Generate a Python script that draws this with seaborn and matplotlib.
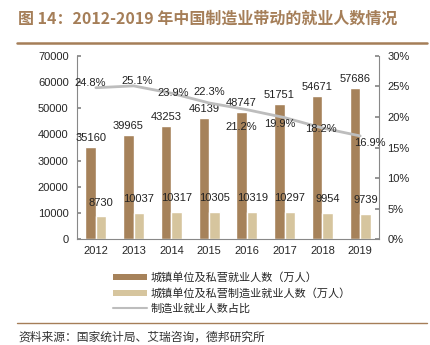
import matplotlib
matplotlib.use("Agg")
import matplotlib.pyplot as plt
import seaborn as sns
import pandas as pd
from matplotlib.patches import Patch
from matplotlib.lines import Line2D

years = ["2012", "2013", "2014", "2015", "2016", "2017", "2018", "2019"]
total_emp = [35160, 39965, 43253, 46139, 48747, 51751, 54671, 57686]
mfg_emp = [8730, 10037, 10317, 10305, 10319, 10297, 9954, 9739]
mfg_share = [24.8, 25.1, 23.9, 22.3, 21.2, 19.9, 18.2, 16.9]
series_names = ["城镇单位及私营就业人数（万人）", "城镇单位及私营制造业就业人数（万人）", "制造业就业人数占比"]

sns.set_theme(style="white")
plt.rcParams['font.family'] = ['Liberation Sans', 'Noto Sans CJK SC', 'DejaVu Sans']

dark = "#A6825A"
light = "#D6C59E"
gray = "#BDBDBD"
brown = "#A57E58"

df = pd.DataFrame({
    "year": years * 2,
    "value": total_emp + mfg_emp,
    "series": [series_names[0]] * len(years) + [series_names[1]] * len(years),
})

fig = plt.figure(figsize=(4.31, 3.45), dpi=100)
ax = fig.add_axes([0.1787, 0.3072, 0.7007, 0.5305])
sns.barplot(data=df, x="year", y="value", hue="series", hue_order=series_names[:2],
            palette=[dark, light], width=0.56, gap=0, ax=ax, legend=False, saturation=1)
ax.set_xlim(-0.5, len(years) - 0.5)
ax.set_ylim(0, 70000)
ax.set_yticks(range(0, 70001, 10000))
ax.set_xlabel("")
ax.set_ylabel("")
for s in ["top", "right"]:
    ax.spines[s].set_visible(False)
for s in ["left", "bottom"]:
    ax.spines[s].set_color("#888888")
    ax.spines[s].set_linewidth(0.8)
ax.tick_params(axis="y", direction="in", length=3, color="#888888", labelsize=8, pad=6)
ax.tick_params(axis="x", length=0, labelsize=8, pad=5)
ax.set_xticks([i + 0.5 for i in range(len(years) - 1)], minor=True)
ax.tick_params(axis="x", which="minor", direction="out", length=3, color="#888888")

# bar labels
for i in range(len(years)):
    ax.text(i - 0.14, total_emp[i] + 1500, str(total_emp[i]), ha="center", va="bottom", fontsize=8, color="#222222")
    ax.text(i + 0.14, mfg_emp[i] + 3300, str(mfg_emp[i]), ha="center", va="bottom", fontsize=8, color="#222222")

ax2 = ax.twinx()
sns.lineplot(x=list(range(len(years))), y=mfg_share, ax=ax2, color=gray, linewidth=2)
ax2.set_ylim(0, 30)
ax2.set_yticks(range(0, 31, 5))
ax2.set_yticklabels([f"{v}%" for v in range(0, 31, 5)])
for s in ["top", "left", "bottom"]:
    ax2.spines[s].set_visible(False)
ax2.spines["right"].set_color("#888888")
ax2.spines["right"].set_linewidth(0.8)
ax2.tick_params(axis="y", direction="in", length=3, color="#888888", labelsize=8, pad=6)
ax2.set_xlim(-0.5, len(years) - 0.5)

# percentage label offsets (x in categories, y in %)
offs = [(-0.15, 0.8), (0.1, 0.8), (0.05, 0.0), (0.0, 1.8), (-0.15, -2.8), (-0.13, -1.0), (-0.03, -0.2), (0.25, -1.1)]
for i, v in enumerate(mfg_share):
    dx, dy = offs[i]
    ax2.text(i + dx, v + dy, f"{v}%", ha="center", va="center", fontsize=8, color="#222222")

handles = [Patch(facecolor=dark, edgecolor="none"), Patch(facecolor=light, edgecolor="none"),
           Line2D([0], [0], color=gray, linewidth=1.5)]
leg = fig.legend(handles, series_names, loc="upper left", bbox_to_anchor=(0.24, 0.24),
                 frameon=False, ncol=1, handlelength=3.0, handleheight=0.45, handletextpad=0.3,
                 labelspacing=0.45, prop={"family": ["Noto Sans CJK SC"], "size": 8})

fig.text(0.042, 0.945, "图 14：2012-2019 年中国制造业带动的就业人数情况", fontsize=11.5, fontweight="bold",
         color=brown, ha="left", va="center", family=["Noto Sans CJK SC", "DejaVu Sans"])
fig.add_artist(Line2D([0.04, 0.99], [0.875, 0.875], color=brown, linewidth=1.8, transform=fig.transFigure))
fig.add_artist(Line2D([0.04, 0.99], [0.064, 0.064], color=brown, linewidth=1.0, transform=fig.transFigure))
fig.text(0.042, 0.022, "资料来源：国家统计局、艾瑞咨询，德邦研究所", fontsize=8.5, color="#333333",
         ha="left", va="center", family=["Noto Sans CJK SC", "DejaVu Sans"])

fig.savefig("out.png", dpi=100)
